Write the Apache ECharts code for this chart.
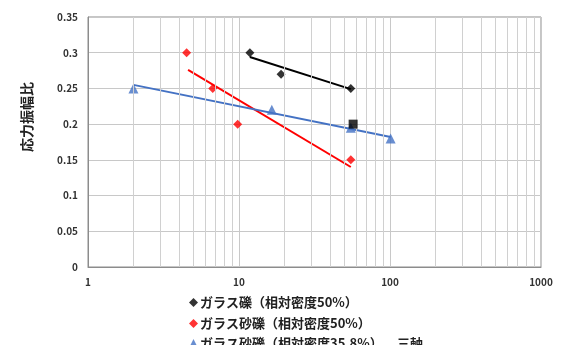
<!DOCTYPE html>
<html>
<head>
<meta charset="utf-8">
<script src="https://cdn.jsdelivr.net/npm/echarts@6/dist/echarts.min.js"></script>
<style>
  html, body { margin: 0; padding: 0; background: #fff; }
  #chart { width: 563px; height: 345px; }
</style>
</head>
<body>
<div id="chart"></div>
<script>
// Measured points: [cycles, stress amplitude ratio]
const glassGravel50 = [[11.8, 0.30], [19, 0.27], [55, 0.25]];
const glassSandGravel50 = [[4.5, 0.30], [6.7, 0.25], [9.8, 0.20], [55, 0.15]];
const glassSandGravel358 = [[2.0, 0.25], [16.5, 0.22], [55, 0.195], [101, 0.18]];
const triaxial = [[57, 0.20]];

// Trend lines (start and end of each fitted line)
const trendGlassGravel50 = [[11.8, 0.294], [55, 0.249]];
const trendGlassSandGravel50 = [[4.6, 0.276], [55, 0.14]];
const trendGlassSandGravel358 = [[2.0, 0.255], [101, 0.182]];

const seriesNames = ['ガラス礫（相対密度50%）', 'ガラス砂礫（相対密度50%）', 'ガラス砂礫（相対密度35.8%）', '三軸'];
const yAxisTitle = '応力振幅比';

// Minor vertical grid positions on the log axis
const minorGrid = [2, 3, 4, 5, 6, 7, 8, 9, 20, 30, 40, 50, 60, 70, 80, 90, 200, 300, 400, 500, 600, 700, 800, 900];

const FONT = '"Noto Sans CJK JP", "Noto Sans", sans-serif';
const BLUE = '#4472c4';
const RED = '#ff0000';

const chart = echarts.init(document.getElementById('chart'), null, { renderer: 'canvas' });

function trend(data, color) {
  return {
    type: 'line', data: data, symbol: 'none', silent: true,
    lineStyle: { color: color, width: 2 }, z: 3, legendHoverLink: false
  };
}

const legendText = { color: '#222', fontFamily: FONT, fontWeight: 'bold', fontSize: 13 };

function legendRow(name, icon, left, top) {
  return {
    left: left, top: top, itemWidth: 9, itemHeight: 9, itemGap: 0,
    data: [{ name: name, icon: icon }],
    textStyle: Object.assign({ padding: [0, 0, 0, -3] }, legendText)
  };
}

chart.setOption({
  animation: false,
  backgroundColor: '#fff',
  grid: {
    left: 88, right: 22, top: 17, bottom: 78,
    show: true, borderColor: '#8c8c8c', borderWidth: 1
  },
  xAxis: {
    type: 'log', logBase: 10, min: 1, max: 1000,
    axisLine: { show: true, lineStyle: { color: '#8c8c8c' } },
    axisTick: { show: false },
    axisLabel: {
      color: '#333', fontFamily: FONT, fontWeight: 'bold', fontSize: 10, margin: 10,
      formatter: v => String(v)
    },
    splitLine: { show: true, lineStyle: { color: '#c8c8c8', width: 1 } }
  },
  yAxis: {
    type: 'value', min: 0, max: 0.35, interval: 0.05,
    axisLine: { show: true, lineStyle: { color: '#8c8c8c' } },
    axisTick: { show: false },
    axisLabel: { color: '#333', fontFamily: FONT, fontWeight: 'bold', fontSize: 10, margin: 10 },
    splitLine: { show: true, lineStyle: { color: '#c8c8c8', width: 1 } }
  },
  legend: [
    legendRow(seriesNames[0], 'diamond', 184, 291),
    legendRow(seriesNames[1], 'diamond', 184, 312),
    legendRow(seriesNames[2], 'triangle', 184, 332),
    {
      left: 387, top: 332, itemWidth: 0, itemHeight: 0,
      data: [{ name: seriesNames[3], icon: 'none' }],
      textStyle: legendText
    }
  ],
  graphic: [{
    type: 'text', left: 20, top: 82, rotation: Math.PI / 2,
    style: { text: yAxisTitle, fill: '#222', font: 'bold 14px ' + FONT }
  }],
  series: [
    {
      name: seriesNames[0], type: 'scatter', data: glassGravel50,
      symbol: 'diamond', symbolSize: 9, itemStyle: { color: '#000' }, z: 4
    },
    {
      name: seriesNames[1], type: 'scatter', data: glassSandGravel50,
      symbol: 'diamond', symbolSize: 9, itemStyle: { color: RED }, z: 4
    },
    {
      name: seriesNames[2], type: 'scatter', data: glassSandGravel358,
      symbol: 'triangle', symbolSize: 10, itemStyle: { color: BLUE }, z: 4
    },
    {
      name: seriesNames[3], type: 'scatter', data: triaxial,
      symbol: 'rect', symbolSize: 9, itemStyle: { color: '#000' }, z: 5
    },
    trend(trendGlassGravel50, '#000'),
    trend(trendGlassSandGravel50, RED),
    trend(trendGlassSandGravel358, BLUE),
    {
      type: 'line', data: [], silent: true,
      markLine: {
        silent: true, symbol: 'none', label: { show: false },
        lineStyle: { color: '#d0d0d0', width: 1, type: 'solid' },
        data: minorGrid.map(v => ({ xAxis: v }))
      }, z: 1
    }
  ]
});
</script>
</body>
</html>
